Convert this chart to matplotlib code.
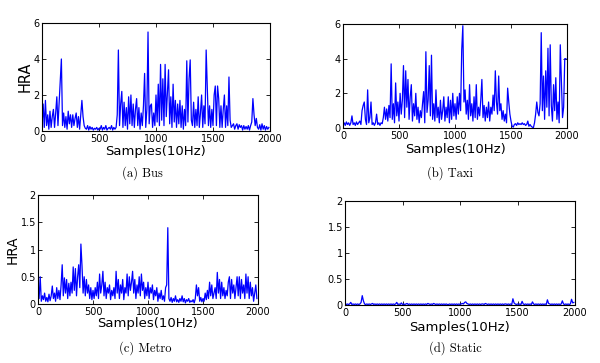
import numpy as np
import matplotlib
matplotlib.use("Agg")
import matplotlib.pyplot as plt

# HRA values read every 10 samples (10 Hz), 2000 samples per trace
bus = [
0.3,1.5,0.2,1.7,0.3,0.9,0.1,1.1,0.2,0.8,
1.2,0.2,1.0,1.9,0.3,1.5,2.7,4.0,0.3,1.0,
0.2,0.8,0.1,1.1,0.4,0.9,0.2,0.9,0.3,0.7,
1.0,0.2,0.8,0.1,0.9,1.7,0.8,0.3,0.15,0.1,
0.3,0.05,0.25,0.1,0.2,0.05,0.15,0.1,0.2,0.05,
0.15,0.1,0.3,0.05,0.2,0.1,0.3,0.05,0.15,0.2,
0.1,0.3,0.05,0.2,0.1,0.2,0.9,4.5,0.3,1.5,
2.2,0.2,1.6,0.3,1.3,0.1,1.9,0.4,2.0,0.3,
1.5,0.2,1.2,1.8,0.3,1.3,0.1,1.0,0.3,1.4,
3.2,0.2,1.2,5.5,0.4,1.4,1.5,0.2,1.0,0.3,
2.0,0.5,2.6,0.3,3.7,0.6,2.9,0.3,3.7,0.8,
2.1,3.4,0.4,1.9,0.2,2.6,0.5,1.7,0.2,1.5,
0.4,1.7,0.2,1.4,0.1,1.2,0.3,3.9,0.5,2.9,
3.95,0.6,0.3,1.6,0.2,1.2,0.3,1.9,0.2,1.0,
2.0,0.2,1.4,0.4,4.5,2.4,0.3,1.4,0.2,1.2,
0.3,2.0,2.5,0.3,2.5,1.8,0.2,1.4,0.2,1.2,
2.0,0.2,1.4,0.3,3.0,0.6,0.2,0.3,0.4,0.1,
0.3,0.4,0.1,0.35,0.2,0.3,0.05,0.3,0.1,0.25,
0.1,0.3,0.05,0.3,0.5,1.8,0.9,0.3,0.7,0.2,
0.1,0.35,0.05,0.4,0.1,0.3,0.05,0.25,0.1,0.2]

taxi = [
0.2,0.3,0.15,0.35,0.2,0.3,0.15,0.3,0.7,0.2,
0.3,0.15,0.35,0.2,0.3,0.4,0.2,1.0,1.3,1.5,
0.5,0.2,2.2,0.3,0.6,1.5,0.2,0.3,0.15,0.3,
0.8,0.2,0.3,0.15,0.3,0.25,0.6,1.2,0.5,1.1,
0.4,1.3,0.6,3.7,0.5,1.4,0.3,2.6,0.7,1.5,
0.4,2.0,0.8,1.6,3.6,0.6,3.3,1.2,2.8,0.5,
1.8,2.5,0.4,1.4,0.7,2.0,0.5,1.2,0.3,1.0,
0.6,1.4,2.1,0.3,4.4,0.9,1.6,3.6,0.7,4.2,
0.5,1.4,0.4,2.2,0.6,1.2,0.3,1.6,0.5,1.0,
1.8,0.4,1.2,0.6,1.8,0.3,1.6,0.5,2.0,0.7,
1.4,0.5,1.8,0.8,2.0,1.0,4.5,5.9,1.5,2.2,
0.8,1.6,0.5,2.5,0.7,1.4,0.4,1.8,0.6,2.5,
0.5,1.2,0.7,1.6,2.8,0.6,1.3,0.4,1.2,0.6,
1.5,0.4,1.2,0.8,1.9,1.0,3.3,1.5,0.8,3.0,
1.0,1.4,0.5,1.0,0.4,0.8,0.3,2.3,1.5,0.8,
0.4,0.1,0.05,0.2,0.25,0.15,0.3,0.2,0.25,0.2,
0.3,0.2,0.25,0.15,0.2,0.4,0.1,0.2,0.1,0.05,
0.02,0.3,0.8,1.5,0.9,0.7,1.4,5.5,1.0,3.0,
0.5,3.3,1.2,4.6,0.7,4.8,1.3,0.4,2.5,1.0,
2.9,0.5,1.5,0.3,4.8,2.6,0.6,1.2,4.0,4.0]

metro = [
0.3,0.1,0.5,0.05,0.15,0.08,0.2,0.05,0.12,0.04,
0.18,0.06,0.15,0.33,0.1,0.2,0.05,0.3,0.1,0.25,
0.08,0.35,0.72,0.15,0.48,0.2,0.45,0.1,0.38,0.15,
0.4,0.2,0.68,0.25,0.65,0.15,0.5,0.72,0.3,1.1,
0.7,0.2,0.5,0.15,0.45,0.2,0.35,0.1,0.3,0.08,
0.25,0.1,0.3,0.15,0.4,0.1,0.55,0.2,0.35,0.6,
0.15,0.4,0.1,0.3,0.2,0.35,0.08,0.25,0.15,0.3,
0.1,0.6,0.2,0.45,0.1,0.35,0.2,0.45,0.08,0.3,
0.2,0.55,0.15,0.5,0.25,0.4,0.6,0.2,0.45,0.1,
0.35,0.2,0.5,0.15,0.55,0.25,0.4,0.1,0.3,0.15,
0.4,0.1,0.3,0.2,0.35,0.08,0.25,0.15,0.3,0.05,
0.2,0.1,0.25,0.08,0.15,0.05,0.3,0.35,1.4,0.1,
0.05,0.12,0.03,0.1,0.05,0.15,0.04,0.08,0.03,0.1,
0.05,0.15,0.04,0.1,0.02,0.08,0.05,0.1,0.03,0.06,
0.04,0.08,0.02,0.1,0.35,0.15,0.3,0.05,0.12,0.04,
0.1,0.05,0.2,0.08,0.25,0.1,0.4,0.15,0.35,0.1,
0.2,0.3,0.1,0.58,0.2,0.45,0.1,0.4,0.15,0.3,
0.1,0.25,0.15,0.4,0.5,0.1,0.45,0.2,0.35,0.1,
0.3,0.5,0.15,0.5,0.1,0.45,0.2,0.35,0.1,0.55,
0.2,0.5,0.1,0.4,0.15,0.3,0.05,0.2,0.35,0.1]

static = [
0.02,0.01,0.02,0.01,0.02,0.05,0.01,0.02,0.01,0.02,
0.01,0.02,0.01,0.02,0.05,0.18,0.08,0.02,0.01,0.02,
0.01,0.02,0.01,0.02,0.03,0.01,0.02,0.01,0.02,0.01,
0.02,0.01,0.02,0.01,0.02,0.01,0.02,0.01,0.02,0.01,
0.02,0.01,0.02,0.01,0.02,0.05,0.01,0.02,0.01,0.04,
0.01,0.02,0.01,0.02,0.03,0.01,0.02,0.01,0.02,0.01,
0.02,0.01,0.02,0.01,0.02,0.01,0.02,0.01,0.02,0.01,
0.02,0.01,0.03,0.02,0.01,0.02,0.01,0.03,0.02,0.01,
0.02,0.01,0.02,0.01,0.02,0.01,0.02,0.01,0.02,0.01,
0.01,0.02,0.01,0.02,0.01,0.02,0.01,0.02,0.01,0.02,
0.01,0.02,0.03,0.02,0.05,0.06,0.03,0.02,0.01,0.02,
0.01,0.02,0.01,0.02,0.01,0.02,0.01,0.02,0.01,0.02,
0.02,0.01,0.03,0.02,0.01,0.02,0.01,0.02,0.01,0.02,
0.01,0.02,0.01,0.02,0.01,0.02,0.01,0.02,0.01,0.02,
0.02,0.01,0.02,0.01,0.02,0.01,0.12,0.04,0.02,0.01,
0.02,0.01,0.02,0.01,0.07,0.02,0.01,0.02,0.01,0.02,
0.01,0.02,0.01,0.06,0.02,0.01,0.02,0.01,0.02,0.01,
0.02,0.01,0.02,0.01,0.02,0.01,0.10,0.03,0.02,0.01,
0.02,0.01,0.02,0.01,0.02,0.01,0.02,0.01,0.02,0.08,
0.02,0.01,0.02,0.01,0.02,0.01,0.02,0.11,0.04,0.05]

xticks = [0, 500, 1000, 1500, 2000]
yticks_big = [0, 2, 4, 6]
yticks_small = [0, 0.5, 1, 1.5, 2]
ytick_labels_small = ["0", "0.5", "1", "1.5", "2"]
captions = ["(a) Bus", "(b) Taxi", "(c) Metro", "(d) Static"]

W, H = 600, 363
fig = plt.figure(figsize=(W / 100, H / 100), dpi=100)

def box(l, t, r, b):
    return [l / W, 1 - b / H, (r - l) / W, (b - t) / H]

panels = [
    (bus, box(42, 23, 270, 131), yticks_big, [str(v) for v in yticks_big], 6, True),
    (taxi, box(343, 24, 567, 128), yticks_big, [str(v) for v in yticks_big], 6, False),
    (metro, box(38, 195, 258, 304), yticks_small, ytick_labels_small, 2, True),
    (static, box(345, 201, 575, 305), yticks_small, ytick_labels_small, 2, False),
]

xlabel_y = [151, 150, 323, 327]
cap_pos = [(142, 173), (450, 173), (145, 348), (455, 348)]
hra_pos = {0: (25, 77, 10.5), 2: (13, 250, 9.8)}

for i, (vals, rect, yt, ytl, ymax, show_hra) in enumerate(panels):
    ax = fig.add_axes(rect)
    x = np.arange(len(vals)) * 10
    ax.plot(x, vals, color="#0000ff", lw=0.9)
    ax.set_xlim(0, 2000)
    ax.set_ylim(0, ymax)
    ax.set_xticks(xticks)
    ax.set_xticklabels([str(v) for v in xticks])
    ax.set_yticks(yt)
    ax.set_yticklabels(ytl)
    ax.tick_params(direction="in", top=True, right=True, length=3, width=0.6,
                   labelsize=7)
    ax.tick_params(axis="x", pad=2)
    ax.tick_params(axis="y", pad=1.5)
    for s in ax.spines.values():
        s.set_linewidth(0.8)
    cx = (rect[0] + rect[2] / 2)
    fig.text(cx, 1 - xlabel_y[i] / H, "Samples(10Hz)", ha="center", va="center",
             fontsize=9.5)
    if show_hra:
        hx, hy, fs = hra_pos[i]
        fig.text(hx / W, 1 - hy / H, "HRA", rotation=90, ha="center", va="center",
                 fontsize=fs)
    px, py = cap_pos[i]
    fig.text(px / W, 1 - py / H, captions[i], ha="center", va="center",
             fontsize=9, family="cmr10")

fig.savefig("out.png", dpi=100)
